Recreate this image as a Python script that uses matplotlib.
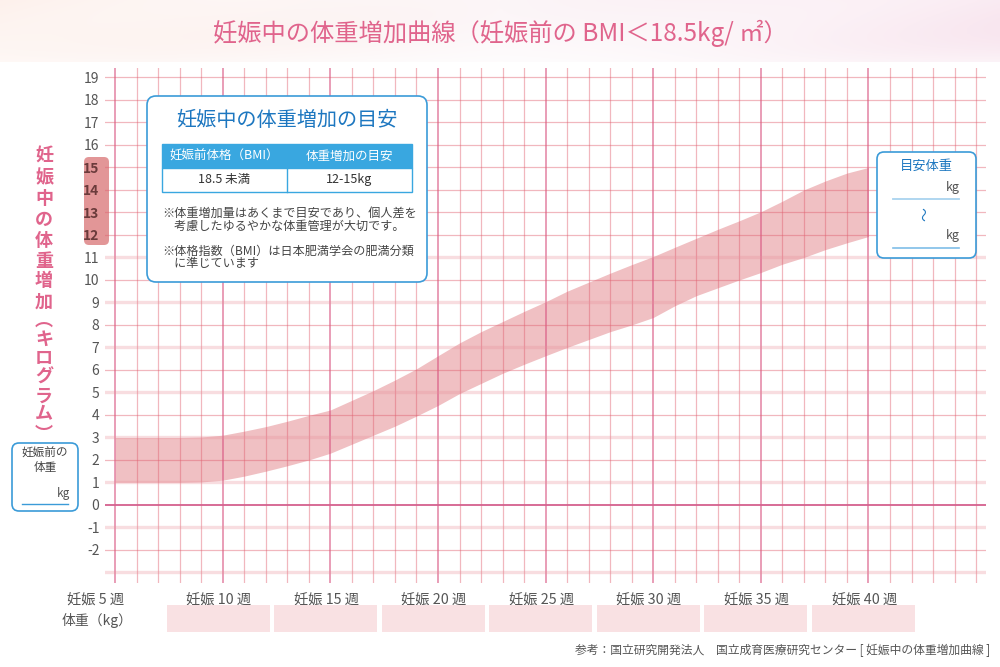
import numpy as np
import matplotlib
matplotlib.use("Agg")
import matplotlib.pyplot as plt
from matplotlib.patches import FancyBboxPatch, Rectangle

plt.rcParams['font.family'] = ['Noto Sans CJK JP', 'DejaVu Sans']

# --- data ---
weeks = list(range(5, 41))
upper = [3.0, 3.0, 3.0, 3.0, 3.02, 3.1, 3.28, 3.48, 3.72, 3.98,
         4.22, 4.65, 5.08, 5.55, 6.05, 6.63, 7.2, 7.7, 8.15, 8.6,
         9.03, 9.5, 9.9, 10.3, 10.68, 11.04, 11.45, 11.85, 12.25, 12.63,
         13.03, 13.5, 14.0, 14.4, 14.75, 15.0]
lower = [1.0, 1.0, 1.0, 1.0, 1.02, 1.1, 1.28, 1.5, 1.74, 2.0,
         2.3, 2.7, 3.1, 3.5, 3.95, 4.42, 4.95, 5.4, 5.85, 6.25,
         6.63, 7.0, 7.35, 7.7, 8.0, 8.33, 8.85, 9.3, 9.65, 10.0,
         10.33, 10.7, 11.0, 11.35, 11.65, 11.93]
week_ticks = [5, 10, 15, 20, 25, 30, 35, 40]
week_labels = ['妊娠 5 週', '妊娠 10 週', '妊娠 15 週', '妊娠 20 週',
               '妊娠 25 週', '妊娠 30 週', '妊娠 35 週', '妊娠 40 週']
y_ticks = list(range(-2, 20))
target_ticks = [12, 13, 14, 15]

title = '妊娠中の体重増加曲線（妊娠前の BMI＜18.5kg/ ㎡）'
ylabel_chars = list('妊娠中の体重増加') + ['︵'] + list('キログラム') + ['︶']
table_head = ['妊娠前体格（BMI）', '体重増加の目安']
table_row = ['18.5 未満', '12-15kg']
notes = ['※体重増加量はあくまで目安であり、個人差を',
         '　考慮したゆるやかな体重管理が大切です。',
         '※体格指数（BMI）は日本肥満学会の肥満分類',
         '　に準じています']
source = '参考：国立研究開発法人　国立成育医療研究センター [ 妊娠中の体重増加曲線 ]'

PINK = '#e0648c'
BLUE = '#3b9bd8'
DBLUE = '#1d77c0'
GRAY = '#555555'

fig = plt.figure(figsize=(10, 6.67), dpi=100)

# main grid axes (pixel box 105..986 x 68..583)
ax = fig.add_axes([0.105, (667 - 583) / 667, 0.881, (583 - 68) / 667])
ax.set_xlim(4.53, 45.46)
ax.set_ylim(-3.47, 19.42)
for s in ax.spines.values():
    s.set_visible(False)
ax.set_xticks([])
ax.set_yticks(y_ticks)
ax.set_yticklabels([str(v) for v in y_ticks])
ax.tick_params(axis='y', length=0, pad=4, labelsize=10, labelcolor=GRAY)
for lab, v in zip(ax.get_yticklabels(), y_ticks):
    if v in target_ticks:
        lab.set_fontweight('bold')
        lab.set_color('#6b3b3b')
ax.set_axisbelow(False)

ax.fill_between(weeks, lower, upper, color='#f0c0c3', lw=0, zorder=1)

for w in range(5, 46):
    if w % 5 == 0 and w <= 40:
        ax.axvline(w, color='#d8507e', alpha=0.65, lw=1.2, zorder=2)
    else:
        ax.axvline(w, color='#e06070', alpha=0.45, lw=0.9, zorder=2)
for v in range(-3, 20):
    if v == 0:
        ax.axhline(v, color='#d4608e', lw=1.3, zorder=2)
    elif v % 2 != 0 and v <= 11:
        ax.axhline(v, color='#e8909a', alpha=0.3, lw=2.4, zorder=2)
    else:
        ax.axhline(v, color='#e06070', alpha=0.45, lw=0.9, zorder=2)

# overlay in pixel coordinates
ov = fig.add_axes([0, 0, 1, 1])
ov.axis('off')
ov.set_zorder(3)

# header background
gx = np.linspace(0, 1, 300)
gy = np.linspace(0, 1, 40)
X, Y = np.meshgrid(gx, gy)
left_c = np.array([253, 238, 232]) / 255
mid_c = np.array([252, 246, 248]) / 255
right_c = np.array([248, 228, 238]) / 255
t = X[..., None]
col = np.where(t < 0.5, left_c + (mid_c - left_c) * (t / 0.5),
               mid_c + (right_c - mid_c) * ((t - 0.5) / 0.5))
wave = 0.5 + 0.5 * np.sin(X * 9 + Y * 3)
col = col + (1 - col) * (0.35 * wave[..., None])
col = col + (1 - col) * (Y[..., None] ** 3 * 0.5)
ov.imshow(np.clip(col, 0, 1), extent=(0, 1000, 62, 0), aspect='auto', zorder=0)
ov.set_xlim(0, 1000)
ov.set_ylim(667, 0)

ov.text(500, 33, title, ha='center', va='center', fontsize=17.5, color=PINK)

# highlight behind 12-15 labels
ax.add_patch(FancyBboxPatch((84, 157), 25, 88, boxstyle='round,pad=0,rounding_size=5',
                            transform=ov.transData, facecolor='#e29697',
                            edgecolor='none', clip_on=False, zorder=0.6))

# vertical y label
ypos = [156, 178, 199, 219, 241, 261, 281, 302, 320, 339, 358, 377, 396, 414, 434]
for ch, yy in zip(ylabel_chars, ypos):
    ov.text(44, yy, ch, ha='center', va='center', fontsize=13, color=PINK,
            fontweight='bold')

# info box
ov.add_patch(FancyBboxPatch((147, 96), 280, 186, boxstyle='round,pad=0,rounding_size=9',
                            facecolor='white', edgecolor=BLUE, lw=1.2, zorder=4))
ov.text(287, 121, '妊娠中の体重増加の目安', ha='center', va='center',
        fontsize=14.5, color=DBLUE, zorder=5)
ov.add_patch(Rectangle((162, 144), 250, 24, facecolor='#39a7e0', edgecolor='#39a7e0', zorder=5))
ov.add_patch(Rectangle((162, 168), 250, 24, facecolor='white', edgecolor='#39a7e0', lw=1, zorder=5))
ov.plot([287, 287], [168, 192], color='#39a7e0', lw=1, zorder=6)
ov.text(224, 156, table_head[0], ha='center', va='center', fontsize=9, color='white', zorder=6)
ov.text(349, 156, table_head[1], ha='center', va='center', fontsize=9, color='white', zorder=6)
ov.text(224, 180, table_row[0], ha='center', va='center', fontsize=9, color='#333333', zorder=6)
ov.text(349, 180, table_row[1], ha='center', va='center', fontsize=9, color='#333333', zorder=6)
for line, yy in zip(notes, [214, 226, 251, 263]):
    ov.text(162, yy, line, ha='left', va='center', fontsize=8.7, color='#444444', zorder=6)

# right box
ov.add_patch(FancyBboxPatch((877, 152), 99, 106, boxstyle='round,pad=0,rounding_size=7',
                            facecolor='white', edgecolor=BLUE, lw=1.2, zorder=4))
ov.text(926, 166, '目安体重', ha='center', va='center', fontsize=9.5, color=DBLUE, zorder=5)
ov.text(960, 188, 'kg', ha='right', va='center', fontsize=9, color=GRAY, zorder=5)
ov.plot([893, 959], [199, 199], color='#a9d3ef', lw=1.3, zorder=5)
ov.text(925, 214, '～', ha='center', va='center', fontsize=10, color=DBLUE, rotation=90, zorder=5)
ov.text(960, 236, 'kg', ha='right', va='center', fontsize=9, color=GRAY, zorder=5)
ov.plot([893, 959], [248, 248], color='#7fbde8', lw=1.2, zorder=5)

# left box
ov.add_patch(FancyBboxPatch((12, 443), 66, 68, boxstyle='round,pad=0,rounding_size=7',
                            facecolor='white', edgecolor=BLUE, lw=1.2, zorder=4))
ov.text(45, 453, '妊娠前の', ha='center', va='center', fontsize=8.4, color='#444444', zorder=5)
ov.text(45, 468, '体重', ha='center', va='center', fontsize=8.4, color='#444444', zorder=5)
ov.text(70, 493, 'kg', ha='right', va='center', fontsize=8.5, color=GRAY, zorder=5)
ov.plot([22, 68], [504, 504], color=BLUE, lw=1, zorder=5)

# week labels and weight boxes under the grid
tr = ax.get_xaxis_transform()
for w, lab in zip(week_ticks, week_labels):
    xc = w - 0.9 if w == 5 else w - 0.2
    ax.text(xc, -0.02, lab, transform=tr, ha='center', va='top', fontsize=10.3,
            color=GRAY, clip_on=False)
for w in week_ticks[1:]:
    x0 = (w - 5) * 21.5 + 115
    ov.add_patch(Rectangle((x0 - 56, 605), 103, 27, facecolor='#f9e1e3',
                           edgecolor='none', zorder=1))
ov.text(97, 620, '体重（kg）', ha='center', va='center', fontsize=10, color=GRAY)

ov.text(990, 650, source, ha='right', va='center', fontsize=8.5, color=GRAY)

fig.savefig('out.png', dpi=100)
